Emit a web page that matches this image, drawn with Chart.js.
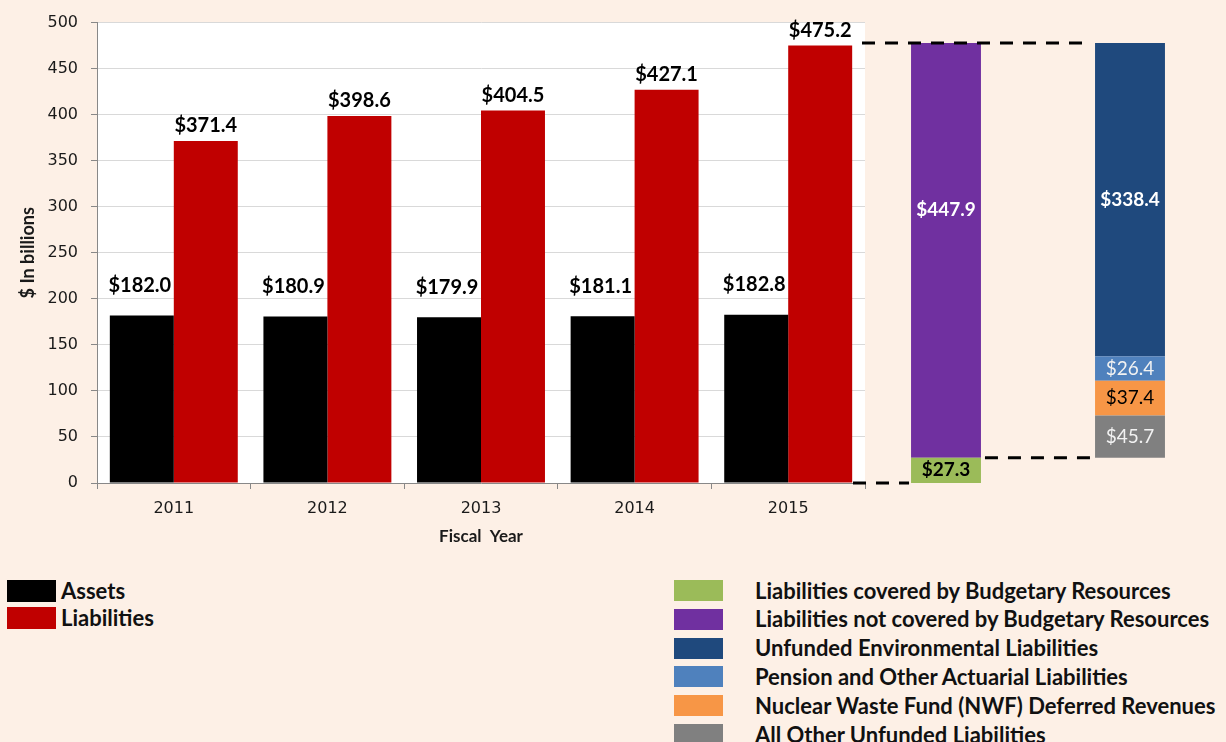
<!DOCTYPE html>
<html>
<head>
<meta charset="utf-8">
<script src="https://cdn.jsdelivr.net/npm/chart.js@4.4.1/dist/chart.umd.min.js"></script>
<style>
    body { margin: 0; background: #fdf0e6; width: 1226px; height: 742px; overflow: hidden; position: relative; font-family: Lato, sans-serif; }
    #graficoPrincipal { position: absolute; left: 0; top: 0; }
    #graficoDetalhe { position: absolute; left: 850px; top: 0; }
    .legenda { position: absolute; }
    .item { position: absolute; white-space: nowrap; font-weight: bold; color: #111; }
</style>
</head>
<body>
<canvas id="graficoPrincipal" width="880" height="560"></canvas>
<canvas id="graficoDetalhe" width="376" height="500"></canvas>
<div id="legendaEsq" class="legenda"></div>
<div id="legendaDir" class="legenda"></div>

<script>
// Dados do gráfico ($ em bilhões)
const anos = ['2011', '2012', '2013', '2014', '2015'];
const ativos = [182.0, 180.9, 179.9, 181.1, 182.8];
const passivos = [371.4, 398.6, 404.5, 427.1, 475.2];

// Composição dos passivos de 2015
const colunasDetalhe = ['Budgetary Resources', 'Unfunded Liabilities'];
const cobertos = [27.3, null];
const naoCobertos = [447.9, null];
const ambientais = [null, 338.4];
const pensoes = [null, 26.4];
const fundoNuclear = [null, 37.4];
const outrosNaoFinanciados = [null, 45.7];

const ticksY = [0, 50, 100, 150, 200, 250, 300, 350, 400, 450, 500];

const nomesEsq = ['Assets', 'Liabilities'];
const nomesDir = [
    'Liabilities covered by Budgetary Resources',
    'Liabilities not covered by Budgetary Resources',
    'Unfunded Environmental Liabilities',
    'Pension and Other Actuarial Liabilities',
    'Nuclear Waste Fund (NWF) Deferred Revenues',
    'All Other Unfunded Liabilities'
];

const cores = {
    ativos: '#000000',
    passivos: '#c00000',
    cobertos: '#9bbb59',
    naoCobertos: '#7030a0',
    ambientais: '#1f497d',
    pensoes: '#4f81bd',
    fundoNuclear: '#f79646',
    outros: '#808080'
};

const formatarValor = (v) => '$' + v.toFixed(1);

// Fundo branco só na área de plotagem
const fundoBranco = {
    id: 'fundoBranco',
    beforeDraw(chart) {
        const { ctx, chartArea: a } = chart;
        ctx.save();
        ctx.fillStyle = '#ffffff';
        ctx.fillRect(a.left, a.top, a.right - a.left, a.bottom - a.top);
        ctx.restore();
    }
};

// Rótulos com os valores
const rotulos = {
    id: 'rotulos',
    afterDatasetsDraw(chart) {
        const ctx = chart.ctx;
        chart.data.datasets.forEach((ds, i) => {
            if (!ds.rotulo) return;
            const meta = chart.getDatasetMeta(i);
            meta.data.forEach((el, j) => {
                const v = ds.data[j];
                if (v === null || v === undefined) return;
                const r = ds.rotulo;
                ctx.save();
                ctx.font = r.fonte;
                ctx.fillStyle = r.cor;
                ctx.textAlign = 'center';
                ctx.textBaseline = 'middle';
                let y;
                if (r.dentro) {
                    y = (el.y + el.base) / 2 + (r.desloc || 0);
                } else {
                    y = el.y - r.desloc;
                }
                ctx.fillText(formatarValor(v), el.x + (r.dx || 0), y);
                ctx.restore();
            });
        });
    }
};

const fonteTick = { family: 'DejaVu Sans', size: 16 };

new Chart(document.getElementById('graficoPrincipal'), {
    type: 'bar',
    data: {
        labels: anos,
        datasets: [{
            label: nomesEsq[0],
            data: ativos,
            backgroundColor: cores.ativos,
            rotulo: { fonte: 'bold 20px Lato', cor: '#000', desloc: 30, dx: -2 }
        }, {
            label: nomesEsq[1],
            data: passivos,
            backgroundColor: cores.passivos,
            rotulo: { fonte: 'bold 20px Lato', cor: '#000', desloc: 15 }
        }]
    },
    options: {
        responsive: false,
        animation: false,
        devicePixelRatio: 1,
        layout: { padding: { top: 20, right: 15, left: 0, bottom: 0 } },
        datasets: { bar: { categoryPercentage: 0.833, barPercentage: 1 } },
        plugins: {
            legend: { display: false },
            tooltip: { enabled: false }
        },
        scales: {
            x: {
                grid: { drawOnChartArea: false, tickLength: 6, tickColor: '#888' },
                border: { color: '#888' },
                ticks: { font: fonteTick, color: '#1a1a1a', padding: 10 },
                title: {
                    display: true,
                    text: 'Fiscal  Year',
                    color: '#1a1a1a',
                    font: { family: 'Lato', size: 17, weight: 'bold' },
                    padding: { top: 0, bottom: 13 }
                },
                afterFit: (s) => { s.height = 77; }
            },
            y: {
                min: 0,
                max: 500,
                afterBuildTicks: (s) => { s.ticks = ticksY.map(v => ({ value: v })); },
                grid: { color: '#d9d9d9', tickLength: 6, tickColor: '#888' },
                border: { color: '#888' },
                ticks: { font: fonteTick, color: '#1a1a1a', padding: 13 },
                title: {
                    display: true,
                    text: '$ In billions',
                    color: '#1a1a1a',
                    font: { family: 'Lato', size: 18, weight: 'bold' },
                    padding: { top: 17, bottom: 0 }
                },
                afterFit: (s) => { s.width = 97; }
            }
        }
    },
    plugins: [fundoBranco, rotulos]
});

// Linhas tracejadas ligando as colunas
const tracejado = {
    id: 'tracejado',
    afterDatasetsDraw(chart) {
        const { ctx } = chart;
        const y = chart.scales.y;
        const roxo = chart.getDatasetMeta(1).data[0];
        const azul = chart.getDatasetMeta(6).data[1];
        const esqRoxo = roxo.x - roxo.width / 2;
        const dirRoxo = roxo.x + roxo.width / 2;
        const esqAzul = azul.x - azul.width / 2;
        const linha = (x1, x2, yy) => {
            ctx.beginPath();
            ctx.moveTo(x1, yy);
            ctx.lineTo(x2, yy);
            ctx.stroke();
        };
        ctx.save();
        ctx.strokeStyle = '#000';
        ctx.lineWidth = 3;
        ctx.setLineDash([13, 10]);
        linha(12, esqAzul - 4, y.getPixelForValue(passivos[passivos.length - 1]));
        linha(3, esqRoxo - 2, y.getPixelForValue(0));
        linha(dirRoxo + 4, esqAzul, y.getPixelForValue(cobertos[0]));
        ctx.restore();
    }
};

new Chart(document.getElementById('graficoDetalhe'), {
    type: 'bar',
    data: {
        labels: colunasDetalhe,
        datasets: [{
            label: nomesDir[0],
            data: cobertos,
            backgroundColor: cores.cobertos,
            rotulo: { fonte: 'bold 19px Lato', cor: '#000', dentro: true }
        }, {
            label: nomesDir[1],
            data: naoCobertos,
            backgroundColor: cores.naoCobertos,
            rotulo: { fonte: 'bold 19px Lato', cor: '#fff', dentro: true, desloc: -40 }
        }, {
            // base invisível: a segunda coluna começa no topo dos passivos cobertos
            label: 'base',
            data: [null, cobertos[0]],
            backgroundColor: 'rgba(0,0,0,0)'
        }, {
            label: nomesDir[5],
            data: outrosNaoFinanciados,
            backgroundColor: cores.outros,
            rotulo: { fonte: '19px Lato', cor: '#f2f2f2', dentro: true }
        }, {
            label: nomesDir[4],
            data: fundoNuclear,
            backgroundColor: cores.fundoNuclear,
            rotulo: { fonte: '19px Lato', cor: '#000', dentro: true }
        }, {
            label: nomesDir[3],
            data: pensoes,
            backgroundColor: cores.pensoes,
            rotulo: { fonte: '19px Lato', cor: '#f2f2f2', dentro: true }
        }, {
            label: nomesDir[2],
            data: ambientais,
            backgroundColor: cores.ambientais,
            rotulo: { fonte: 'bold 19px Lato', cor: '#fff', dentro: true }
        }]
    },
    options: {
        responsive: false,
        animation: false,
        devicePixelRatio: 1,
        layout: { padding: { top: 20, right: 4, left: 4, bottom: 17 } },
        datasets: { bar: { categoryPercentage: 1, barPercentage: 0.38 } },
        plugins: {
            legend: { display: false },
            tooltip: { enabled: false }
        },
        scales: {
            x: { display: false, stacked: true },
            y: { display: false, stacked: true, min: 0, max: 500 }
        }
    },
    plugins: [rotulos, tracejado]
});

// Legendas em HTML
function montarLegenda(el, nomes, listaCores, x, y, passo, caixa, textoX, fonte) {
    nomes.forEach((nome, i) => {
        const item = document.createElement('div');
        item.className = 'item';
        item.style.left = x + 'px';
        item.style.top = (y + i * passo) + 'px';
        item.style.fontSize = fonte + 'px';
        const q = document.createElement('div');
        q.style.cssText = `position:absolute;left:0;top:0;width:${caixa[0]}px;height:${caixa[1]}px;background:${listaCores[i]}`;
        const t = document.createElement('div');
        t.textContent = nome;
        t.style.cssText = `position:absolute;left:${textoX}px;top:${caixa[1] / 2}px;transform:translateY(-50%);line-height:1`;
        item.appendChild(q);
        item.appendChild(t);
        el.appendChild(item);
    });
}

montarLegenda(document.getElementById('legendaEsq'), nomesEsq,
    [cores.ativos, cores.passivos], 7, 580, 27, [49, 22], 54, 22);
montarLegenda(document.getElementById('legendaDir'), nomesDir,
    [cores.cobertos, cores.naoCobertos, cores.ambientais, cores.pensoes, cores.fundoNuclear, cores.outros],
    674, 580, 28.8, [49, 21], 81, 22);
</script>
</body>
</html>
